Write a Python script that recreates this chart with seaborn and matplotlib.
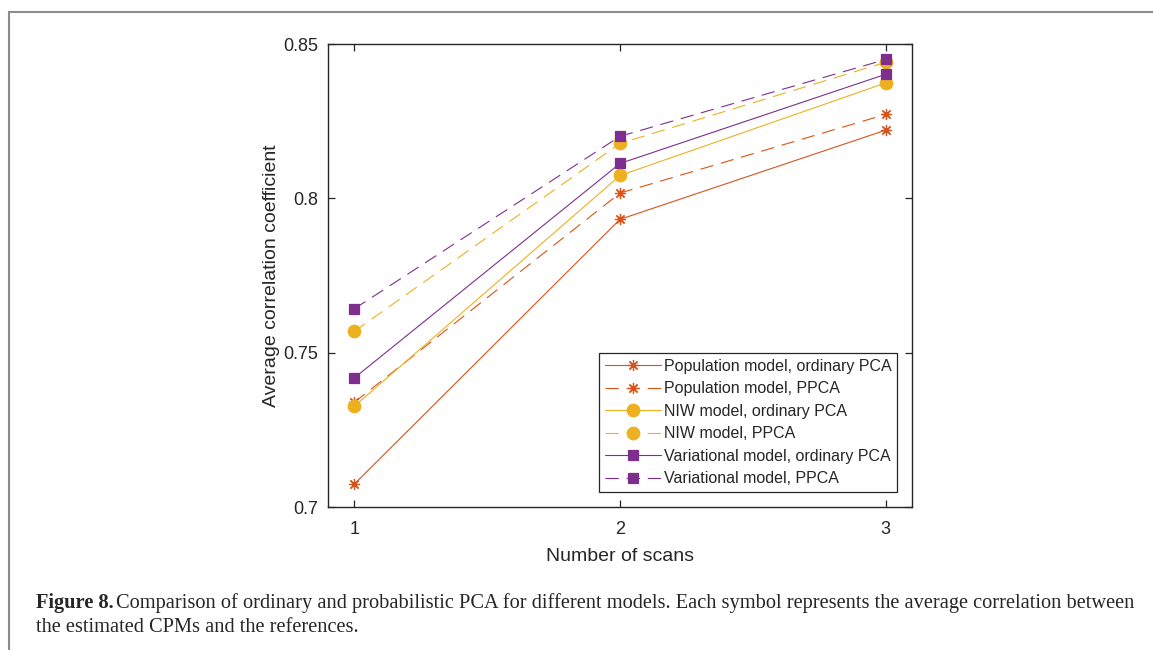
import matplotlib
matplotlib.use("Agg")
import matplotlib.pyplot as plt
import seaborn as sns
import pandas as pd
from matplotlib.lines import Line2D
from matplotlib.ticker import FormatStrFormatter

scans = [1, 2, 3]
pop_ordinary = [0.7074, 0.7932, 0.8221]
pop_ppca = [0.7339, 0.8017, 0.8272]
niw_ordinary = [0.7326, 0.8074, 0.8374]
niw_ppca = [0.7569, 0.8178, 0.8441]
var_ordinary = [0.7418, 0.8113, 0.8402]
var_ppca = [0.7642, 0.8201, 0.8450]

series_names = [
    "Population model, ordinary PCA",
    "Population model, PPCA",
    "NIW model, ordinary PCA",
    "NIW model, PPCA",
    "Variational model, ordinary PCA",
    "Variational model, PPCA",
]
series_values = [pop_ordinary, pop_ppca, niw_ordinary, niw_ppca, var_ordinary, var_ppca]

c_pop = "#D95319"
c_niw = "#EDB120"
c_var = "#7E2F8E"
colors = [c_pop, c_pop, c_niw, c_niw, c_var, c_var]
markers = [(8, 2, 0), (8, 2, 0), "o", "o", "s", "s"]
dash_pat = (12, 7)
is_dashed = [False, True, False, True, False, True]
msizes = [8, 8, 9, 9, 7, 7]

sns.set_style("white")
plt.rcParams["font.family"] = ["Liberation Sans", "DejaVu Sans"]

fig = plt.figure(figsize=(11.53, 6.5), dpi=100)
ax = fig.add_axes([0.2842, 0.2200, 0.5071, 0.7123])

handles = []
for name, vals, col, mk, dsh, ms in zip(series_names, series_values, colors, markers, is_dashed, msizes):
    d = pd.DataFrame({"scans": scans, "corr": vals})
    sns.lineplot(data=d, x="scans", y="corr", color=col, linewidth=0.8, ax=ax,
                 marker=mk, markersize=ms, markeredgecolor=col, markerfacecolor=col,
                 markeredgewidth=0.9, legend=False)
    line = ax.lines[-1]
    if dsh:
        line.set_dashes(dash_pat)
    handles.append(line)

ax.set_xlim(0.9, 3.1)
ax.set_ylim(0.7, 0.85)
ax.set_xticks(scans)
ax.set_yticks([0.7, 0.75, 0.8, 0.85])
ax.yaxis.set_major_formatter(FormatStrFormatter("%g"))
ax.tick_params(direction="in", length=5, width=0.9, top=True, right=True,
               bottom=True, left=True, labelsize=13, colors="#262626", pad=7)
ax.tick_params(axis="x", pad=10)
for s in ax.spines.values():
    s.set_color("#262626")
    s.set_linewidth(1.0)
ax.set_xlabel("Number of scans", fontsize=14, color="#262626", labelpad=7)
ax.set_ylabel("Average correlation coefficient", fontsize=14, color="#262626", labelpad=2)

leg = ax.legend(handles, series_names, loc="lower right",
                bbox_to_anchor=(0.9738, 0.0324), borderaxespad=0,
                fontsize=11.5, frameon=True, fancybox=False, framealpha=1,
                edgecolor="#262626", handlelength=3.5, handletextpad=0.2,
                labelspacing=0.47, borderpad=0.35)
leg.get_frame().set_linewidth(0.9)

# page frame lines
fig.add_artist(Line2D([9 / 1153, 1.0], [1 - 12 / 650, 1 - 12 / 650],
                      transform=fig.transFigure, color="#8c8c8c", linewidth=1.5))
fig.add_artist(Line2D([9 / 1153, 9 / 1153], [0.0, 1 - 12 / 650],
                      transform=fig.transFigure, color="#8c8c8c", linewidth=1.5))

serif = ["Liberation Serif", "DejaVu Serif"]
cap_fs = 14.7
t0 = fig.text(36 / 1153, 1 - 603 / 650, "Figure 8.", fontsize=cap_fs, fontweight="bold",
              family=serif, va="center", ha="left")
renderer = fig.canvas.get_renderer()
bb = t0.get_window_extent(renderer=renderer)
fig.text((bb.x1 + 2) / 1153, 1 - 603 / 650,
         "Comparison of ordinary and probabilistic PCA for different models. Each symbol represents the average correlation between",
         fontsize=cap_fs, family=serif, va="center", ha="left")
fig.text(36 / 1153, 1 - 628 / 650, "the estimated CPMs and the references.",
         fontsize=cap_fs, family=serif, va="center", ha="left")

fig.savefig("out.png", dpi=100)
